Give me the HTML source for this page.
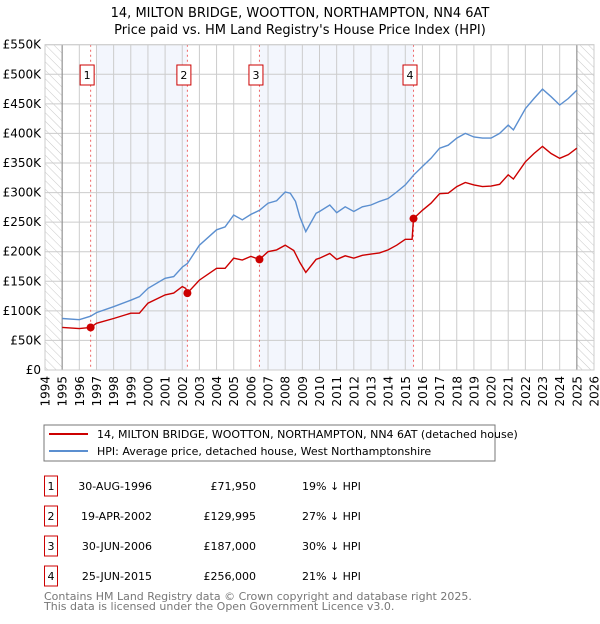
<!DOCTYPE html>
<html><head><meta charset="utf-8"><style>
body{margin:0;background:#fff;font-family:"DejaVu Sans","Liberation Sans",sans-serif;}
svg text{font-family:"DejaVu Sans","Liberation Sans",sans-serif;}
</style></head><body>
<svg id="c" width="600" height="620" xmlns="http://www.w3.org/2000/svg">
<defs><pattern id="hatch" width="6" height="6" patternUnits="userSpaceOnUse" patternTransform="rotate(-45)"><line x1="0" y1="0" x2="0" y2="6" stroke="#bbb" stroke-width="0.8"/></pattern></defs>
<text x="300" y="17" text-anchor="middle" font-size="13">14, MILTON BRIDGE, WOOTTON, NORTHAMPTON, NN4 6AT</text>
<text x="300" y="34" text-anchor="middle" font-size="13">Price paid vs. HM Land Registry's House Price Index (HPI)</text>
<g id="plot"></g>
<rect x="44" y="425" width="451" height="36" fill="#fff" stroke="#777"/>
<g><line x1="49" y1="434" x2="88" y2="434" stroke="#cc0000" stroke-width="2"/><text x="97" y="438" font-size="11">14, MILTON BRIDGE, WOOTTON, NORTHAMPTON, NN4 6AT (detached house)</text></g>
<g><line x1="49" y1="451" x2="88" y2="451" stroke="#5b8fd0" stroke-width="2"/><text x="97" y="455" font-size="11">HPI: Average price, detached house, West Northamptonshire</text></g>
<g id="table" font-size="11"></g>
<text x="44" y="600" font-size="11" fill="#777">Contains HM Land Registry data © Crown copyright and database right 2025.</text>
<text x="44" y="610" font-size="11" fill="#777">This data is licensed under the Open Government Licence v3.0.</text>
</svg>
<script>
const hpiYears=[1995,1996,1996.66,1997,1998,1999,1999.5,2000,2001,2001.5,2002,2002.3,2003,2004,2004.5,2005,2005.5,2006,2006.5,2007,2007.5,2008,2008.3,2008.6,2008.85,2009.2,2009.8,2010,2010.6,2011,2011.5,2012,2012.5,2013,2013.5,2014,2014.5,2015,2015.5,2016,2016.5,2017,2017.5,2018,2018.5,2019,2019.5,2020,2020.5,2021,2021.3,2022,2022.5,2023,2023.5,2024,2024.5,2025];
const hpiValues=[87,85,91,97,107,118,124,138,155,158,174,180,211,237,242,262,254,263,270,282,286,301,299,285,259,234,265,268,279,266,276,268,276,279,285,290,301,313,330,344,358,375,380,392,400,394,392,392,400,414,406,442,459,475,462,448,459,473];
const propYears=[1995,1996,1996.66,1997,1998,1999,1999.5,2000,2001,2001.5,2002,2002.2,2002.3,2003,2004,2004.5,2005,2005.5,2006,2006.5,2007,2007.5,2008,2008.5,2008.85,2009.2,2009.8,2010,2010.6,2011,2011.5,2012,2012.5,2013,2013.5,2014,2014.5,2015,2015.4,2015.48,2016,2016.5,2017,2017.5,2018,2018.5,2019,2019.5,2020,2020.5,2021,2021.3,2022,2022.5,2023,2023.5,2024,2024.5,2025];
const propValues=[72,70,72,79,87,96,96,113,127,130,141,138,130,152,172,172,189,186,192,187,200,203,211,202,182,165,187,189,197,187,193,189,194,196,198,203,211,221,221,256,270,282,298,299,310,317,313,310,311,314,330,323,352,366,378,366,358,364,375];
const saleLabels=["1","2","3","4"];
const saleYears=[1996.66,2002.3,2006.5,2015.48];
const saleValues=[71.95,129.995,187,256];
const saleDates=["30-AUG-1996","19-APR-2002","30-JUN-2006","25-JUN-2015"];
const salePrices=["£71,950","£129,995","£187,000","£256,000"];
const saleDiffs=["19% ↓ HPI","27% ↓ HPI","30% ↓ HPI","21% ↓ HPI"];
const yTicks=[0,50,100,150,200,250,300,350,400,450,500,550];
const yTickLabels=["£0","£50K","£100K","£150K","£200K","£250K","£300K","£350K","£400K","£450K","£500K","£550K"];
const xTicks=[];for(let y=1994;y<=2026;y++)xTicks.push(y);

const X0=45,X1=594,Y0=370,Y1=44.7;
const xs=y=>X0+(y-1994)*(X1-X0)/32;
const ys=v=>Y0-v*(Y0-Y1)/550;
const NS="http://www.w3.org/2000/svg";
const plot=document.getElementById('plot');
function mk(tag,attrs,parent){const e=document.createElementNS(NS,tag);for(const k in attrs)e.setAttribute(k,attrs[k]);(parent||plot).appendChild(e);return e;}

let e;
e=mk('rect',{x:X0,y:Y1,width:X1-X0,height:Y0-Y1,fill:'#fff'});


e=mk('rect',{x:xs(1997),y:Y1,width:xs(saleYears[1])-xs(1997),height:Y0-Y1,fill:'#f3f6fd'});


e=mk('rect',{x:xs(saleYears[2]),y:Y1,width:xs(saleYears[3])-xs(saleYears[2]),height:Y0-Y1,fill:'#f3f6fd'});


e=mk('rect',{x:X0,y:Y1,width:xs(1995)-X0,height:Y0-Y1,fill:'url(#hatch)'});


e=mk('rect',{x:xs(2025),y:Y1,width:X1-xs(2025),height:Y0-Y1,fill:'url(#hatch)'});


yTicks.forEach((v,i)=>{
 e=mk('line',{x1:X0,x2:X1,y1:ys(v),y2:ys(v),stroke:'#ccc','stroke-width':1});
 
 
 e=mk('text',{x:X0-4,y:ys(v)+4,'text-anchor':'end','font-size':12});
 e.textContent=yTickLabels[i];
 
 
});
xTicks.forEach(y=>{
 e=mk('line',{x1:xs(y),x2:xs(y),y1:Y1,y2:Y0,stroke:'#ccc','stroke-width':1});
 
 
 e=mk('text',{x:0,y:0,'text-anchor':'end','font-size':12,transform:`translate(${xs(y)+4.5},${Y0+6}) rotate(-90)`});
 e.textContent=y;
 
 
});
[1995,2025].forEach(y=>{
 e=mk('line',{x1:xs(y),x2:xs(y),y1:Y1,y2:Y0,stroke:'#888','stroke-width':1});
 
 
});
saleYears.forEach((y,i)=>{
 e=mk('line',{x1:xs(y),x2:xs(y),y1:Y1,y2:Y0,stroke:'#e66','stroke-width':1,'stroke-dasharray':'2,3'});
 
 
 const g=mk('g',{});
 
 
 mk('rect',{x:xs(y)-10.5,y:65,width:14,height:20,fill:'#fff',stroke:'#c00'},g);
 const t=mk('text',{x:xs(y)-3.5,y:79,'text-anchor':'middle','font-size':11},g);
 t.textContent=saleLabels[i];
});
function path(xa,va,color,name){
 const d=xa.map((y,i)=>(i?'L':'M')+xs(y).toFixed(1)+','+ys(va[i]).toFixed(1)).join('');
 e=mk('path',{d:d,fill:'none',stroke:color,'stroke-width':1.4});
 
 
}
path(hpiYears,hpiValues,'#5b8fd0','hpi-line');
path(propYears,propValues,'#cc0000','property-price-line');
saleYears.forEach((y,i)=>{
 e=mk('circle',{cx:xs(y),cy:ys(saleValues[i]),r:4,fill:'#cc0000'});
 
 
});
mk('rect',{x:X0,y:Y1,width:X1-X0,height:Y0-Y1,fill:'none',stroke:'#ccc'});
const tb=document.getElementById('table');
saleLabels.forEach((l,i)=>{
 const cy=486+i*30;
 const g=mk('g',{},tb);
 
 
 mk('rect',{x:44.5,y:cy-10,width:13,height:20,fill:'none',stroke:'#c00'},g);
 let t=mk('text',{x:51,y:cy+4,'text-anchor':'middle'},g);t.textContent=l;
 t=mk('text',{x:152,y:cy+4,'text-anchor':'end'},g);t.textContent=saleDates[i];
 t=mk('text',{x:256,y:cy+4,'text-anchor':'end'},g);t.textContent=salePrices[i];
 t=mk('text',{x:302,y:cy+4},g);t.textContent=saleDiffs[i];
});
</script>
</body></html>
